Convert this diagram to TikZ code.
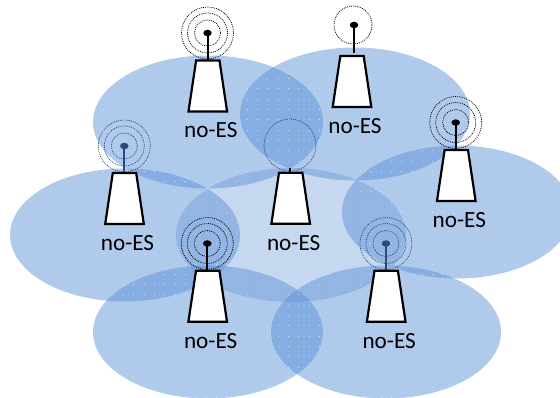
\documentclass[tikz,border=0pt]{standalone}
\usepackage{fontspec}
\setmainfont{Carlito}
\usetikzlibrary{patterns,shapes.geometric}
\pgfdeclarepatternformonly{esdots}{\pgfqpoint{-1pt}{-1pt}}{\pgfqpoint{1pt}{1pt}}{\pgfqpoint{10.3pt}{10.3pt}}{%
  \pgfpathrectangle{\pgfqpoint{-.5pt}{-.5pt}}{\pgfqpoint{1pt}{1pt}}\pgfusepath{fill}}
\definecolor{cellblue}{HTML}{5A90D8}
\definecolor{celllight}{HTML}{C6D8F0}
\definecolor{darkmast}{HTML}{2A4A78}
\tikzset{
  cell/.style={fill=cellblue,fill opacity=.48,draw=none},
  celldots/.style={pattern=esdots,pattern color=white,fill opacity=.4,draw=none},
  centrecell/.style={fill=celllight,draw=none},
  body/.style={draw=black,fill=white,line width=2.2pt,line join=miter},
  mast/.style={line width=2pt},
  ring/.style={draw,line width=.75pt,dash pattern=on .9pt off 1pt,fill=none},
  tip/.style={ellipse,inner sep=0pt,minimum width=8.5pt,minimum height=6.5pt},
  esname/.style={font=\fontsize{23.2}{25}\selectfont,inner sep=0pt,text=black},
}
% name, x dot, y dot, y of body top, colour
\newcommand{\mytower}[5]{%
  \node[tip,fill=#5] (#1tip) at (#2,#3) {};
  \coordinate (#1base) at (#2,#4+1);
  \draw[mast,#5] (#1tip.center) -- (#1base);
  \foreach \r in {13,20,26}{\draw[ring,#5] (#2,#3) circle[radius=\r];}
}
% name, x of body centre, y of body top
\newcommand{\mybody}[3]{%
  \draw[body] (#2-11.7,#3) -- (#2+11.7,#3) -- (#2+19.3,#3+51) -- (#2-19.3,#3+51) -- cycle;
  \node[esname] (#1label) at (#2+3,#3+70) {no-ES};
}
\begin{document}
\begin{tikzpicture}[x=1pt,y=-1pt]
\useasboundingbox (0,0) rectangle (560,398);
\clip (0,0) rectangle (560,398);
\fill[centrecell] (291,235) ellipse[x radius=115,y radius=67];
\foreach \cx/\cy in {208/122,355/114,457/212,125/235,208/332,386/332}{
  \fill[cell] (\cx,\cy) ellipse[x radius=115,y radius=66.5];
}
\foreach \cx/\cy in {208/122,355/114,457/212,125/235,208/332,386/332}{
  \fill[celldots] (\cx,\cy) ellipse[x radius=115,y radius=66.5];
}
% towers
\mytower{a}{207.5}{33}{60}{black}
\mybody{a}{207.8}{60.5}
\node[tip,fill=black] (btip) at (354,25) {};
\coordinate (bbase) at (354,52.7);
\draw[mast] (btip.center) -- (bbase);
\draw[ring] (353,25) circle[radius=19];
\mybody{b}{352}{56}
\mytower{c}{455.7}{122.5}{150}{black}
\mybody{c}{456.3}{150}
\mytower{d}{124.3}{146}{173}{darkmast}
\mybody{d}{124.5}{173}
\coordinate (estub) at (290,168);
\coordinate (ebase) at (290,173);
\draw[mast] (estub) -- (ebase);
\draw[ring,darkmast] (290,145) circle[radius=26];
\mybody{e}{290.7}{172.7}
\mytower{f}{207.3}{243.5}{271}{black}
\mybody{f}{207.7}{270.7}
\mytower{g}{386}{243.5}{271}{darkmast}
\mybody{g}{386.2}{270.7}
\end{tikzpicture}
\end{document}
